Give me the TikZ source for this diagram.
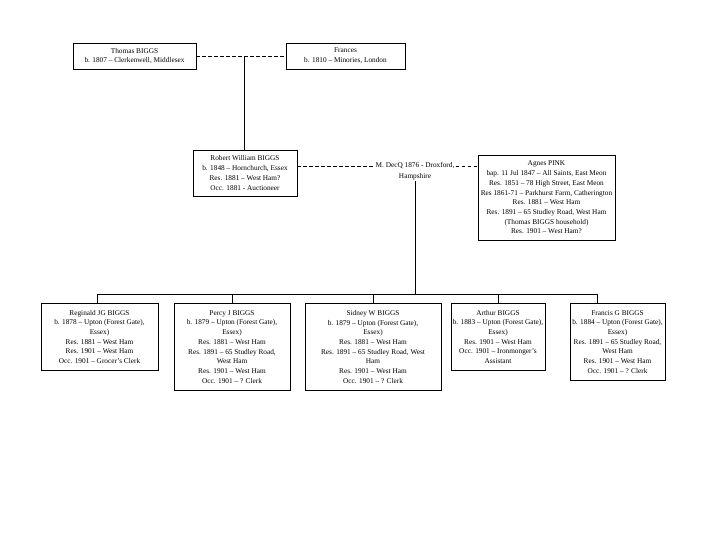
\documentclass[tikz,border=0pt]{standalone}
\usepackage{fontspec}
\setmainfont{Liberation Serif}
\begin{document}
\begin{tikzpicture}[x=1pt,y=-1pt,
  person/.style={draw,line width=0.6pt,align=center,inner sep=1pt,font=\fontsize{7.3}{9.7}\selectfont},
  plain/.style={align=center,inner sep=1pt,font=\fontsize{7.3}{10.5}\selectfont},
  link/.style={line width=0.6pt},
  marriage/.style={line width=0.6pt,dashed,dash pattern=on 3.5pt off 2.5pt}]
\useasboundingbox (0,0) rectangle (720,540);
\node[person,minimum width=123pt,minimum height=26pt] (thomas) at (134.5,56) {Thomas BIGGS\\b. 1807 – Clerkenwell, Middlesex};
\node[person,minimum width=119pt,minimum height=26pt] (frances) at (345.5,56) {Frances\\b. 1810 – Minories, London};
\node[person,minimum width=104pt,minimum height=46pt] (robert) at (245,173) {Robert William BIGGS\\b. 1848 – Hornchurch, Essex\\Res. 1881 – West Ham?\\Occ. 1881 - Auctioneer};
\node[plain] (marr) at (415,171) {M. DecQ 1876 - Droxford,\\Hampshire};
\node[person,minimum width=137pt,minimum height=85pt] (agnes) at (546.5,197.5) {Agnes PINK\\bap. 11 Jul 1847 – All Saints, East Meon\\Res. 1851 – 78 High Street, East Meon\\Res 1861-71 – Parkhurst Farm, Catherington\\Res. 1881 – West Ham\\Res. 1891 – 65 Studley Road, West Ham\\(Thomas BIGGS household)\\Res. 1901 – West Ham?};
\node[person,anchor=north,minimum width=117pt,minimum height=67pt] (reginald) at (99.5,303) {Reginald JG BIGGS\\b. 1878 – Upton (Forest Gate),\\Essex)\\Res. 1881 – West Ham\\Res. 1901 – West Ham\\Occ. 1901 – Grocer's Clerk};
\node[person,anchor=north,minimum width=116pt,minimum height=87pt] (percy) at (232,303) {Percy J BIGGS\\b. 1879 – Upton (Forest Gate),\\Essex)\\Res. 1881 – West Ham\\Res. 1891 – 65 Studley Road,\\West Ham\\Res. 1901 – West Ham\\Occ. 1901 – ? Clerk};
\node[person,anchor=north,minimum width=136pt,minimum height=87pt] (sidney) at (373,303) {Sidney W BIGGS\\b. 1879 – Upton (Forest Gate),\\Essex)\\Res. 1881 – West Ham\\Res. 1891 – 65 Studley Road, West\\Ham\\Res. 1901 – West Ham\\Occ. 1901 – ? Clerk};
\node[person,anchor=north,minimum width=94pt,minimum height=67pt] (arthur) at (498,303) {Arthur BIGGS\\b. 1883 – Upton (Forest Gate),\\Essex)\\Res. 1901 – West Ham\\Occ. 1901 – Ironmonger's\\Assistant};
\node[person,anchor=north,minimum width=95pt,minimum height=77pt] (francis) at (617.5,303) {Francis G BIGGS\\b. 1884 – Upton (Forest Gate),\\Essex)\\Res. 1891 – 65 Studley Road,\\West Ham\\Res. 1901 – West Ham\\Occ. 1901 – ? Clerk};
\coordinate (c1) at (244,56);
\coordinate (bus) at (415,294);
\coordinate (busL) at (97,294);
\coordinate (busR) at (597,294);
\draw[marriage] (thomas.east) -- (frances.west);
\draw[link] (c1) -- (c1 |- robert.north);
\draw[marriage] (robert.east |- 0,166) -- (marr.west |- 0,166);
\draw[marriage] (marr.east |- 0,166) -- (agnes.west |- 0,166);
\draw[link] (marr.south) -- (bus);
\draw[link] (busL) -- (busR);
\draw[link] (busL) -- (busL |- reginald.north);
\draw[link] (percy.north |- bus) -- (percy.north);
\draw[link] (sidney.north |- bus) -- (sidney.north);
\draw[link] (arthur.north |- bus) -- (arthur.north);
\draw[link] (busR) -- (busR |- francis.north);
\end{tikzpicture}
\end{document}
